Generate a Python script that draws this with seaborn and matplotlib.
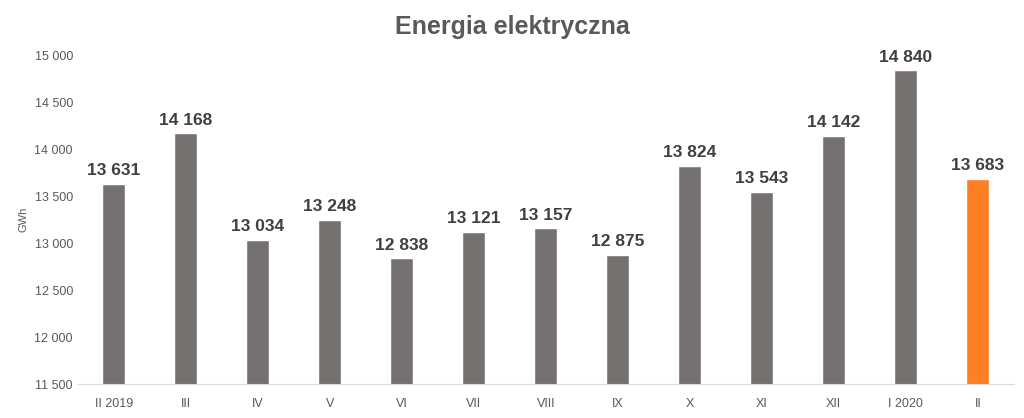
import pandas as pd
import seaborn as sns
import matplotlib.pyplot as plt

# Dane
months = ["II 2019", "III", "IV", "V", "VI", "VII", "VIII", "IX", "X", "XI", "XII", "I 2020", "II"]
energy = [13631, 14168, 13034, 13248, 12838, 13121, 13157, 12875, 13824, 13543, 14142, 14840, 13683]
yticks = [11500, 12000, 12500, 13000, 13500, 14000, 14500, 15000]

df = pd.DataFrame({"month": months, "gwh": energy})
colors = ["#767171"] * (len(months) - 1) + ["#FF7F27"]

sns.set_style("white")
plt.rcParams['font.family'] = ['Liberation Sans Narrow', 'Liberation Sans', 'DejaVu Sans']

fig = plt.figure(figsize=(10.24, 4.18), dpi=100)
ax = fig.add_axes([0.076, 0.081, 0.914, 0.787])

sns.barplot(data=df, x="month", y="gwh", hue="month", palette=colors,
            legend=False, width=0.32, saturation=1, ax=ax)

def fmt(v):
    return f"{v:,}".replace(",", " ")

for i, v in enumerate(energy):
    ax.text(i, v + 60, fmt(v), ha="center", va="bottom", fontsize=12.5,
            fontweight="bold", color="#404040")

ax.set_ylim(11500, 15000)
ax.set_xlim(-0.5, len(months) - 0.5)
ax.set_yticks(yticks)
ax.set_yticklabels([fmt(t) for t in yticks])
ax.tick_params(axis="both", labelsize=9, colors="#595959", length=0)
ax.tick_params(axis="x", pad=10)
ax.set_xlabel("")
ax.set_ylabel("GWh", fontsize=8, color="#595959")
for s in ["top", "right", "left"]:
    ax.spines[s].set_visible(False)
ax.spines["bottom"].set_color("#d9d9d9")

fig.suptitle("Energia elektryczna", fontsize=18, fontweight="bold", color="#595959", y=0.965)

plt.savefig("out.png", dpi=100)
plt.close()
